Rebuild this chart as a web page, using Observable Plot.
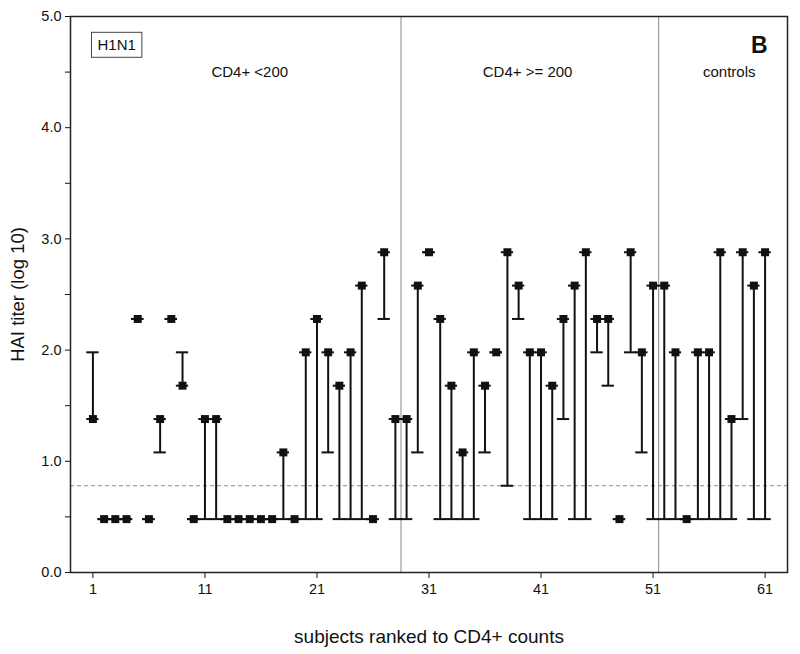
<!DOCTYPE html>
<html><head><meta charset="utf-8">
<script src="https://cdn.jsdelivr.net/npm/d3@7"></script>
<script src="https://cdn.jsdelivr.net/npm/@observablehq/plot@0.6"></script>
<style>
body{margin:0;background:#fff;}
#chart svg{font-family:"Liberation Sans",Arial,sans-serif;}
</style>
</head><body><div id="chart"></div>
<script>
// subjects ranked to CD4+ counts
const subjects = d3.range(1, 62);
// titer shown with the filled square (log10)
const squareValues = [
  1.38,0.48,0.48,0.48,2.28,0.48,1.38,2.28,1.68,0.48,
  1.38,1.38,0.48,0.48,0.48,0.48,0.48,1.08,0.48,1.98,
  2.28,1.98,1.68,1.98,2.58,0.48,2.88,1.38,1.38,2.58,
  2.88,2.28,1.68,1.08,1.98,1.68,1.98,2.88,2.58,1.98,
  1.98,1.68,2.28,2.58,2.88,2.28,2.28,0.48,2.88,1.98,
  2.58,2.58,1.98,0.48,1.98,1.98,2.88,1.38,2.88,2.58,
  2.88
];
// titer shown with the plain cap (log10)
const capValues = [
  1.98,0.48,0.48,0.48,2.28,0.48,1.08,2.28,1.98,0.48,
  0.48,0.48,0.48,0.48,0.48,0.48,0.48,0.48,0.48,0.48,
  0.48,1.08,0.48,0.48,0.48,0.48,2.28,0.48,0.48,1.08,
  2.88,0.48,0.48,0.48,0.48,1.08,1.98,0.78,2.28,0.48,
  0.48,0.48,1.38,0.48,0.48,1.98,1.68,0.48,1.98,1.08,
  0.48,0.48,0.48,0.48,0.48,0.48,0.48,0.48,1.38,0.48,
  0.48
];
const groupSeparators = [28.5, 51.5];
const groupLabels = ["CD4+ <200", "CD4+ >= 200", "controls"];
const groupLabelX = [15, 39.8, 57.8];
const cutoff = 0.78;
const xTicks = [1, 11, 21, 31, 41, 51, 61];
const yTicks = [0, 1, 2, 3, 4, 5];
const yMinorTicks = [0.5, 1.5, 2.5, 3.5, 4.5];

const data = subjects.map((s, i) => ({s, sq: squareValues[i], cap: capValues[i]}));
const half = 0.55;

const chart = Plot.plot({
  width: 800, height: 654,
  marginLeft: 70, marginRight: 13, marginTop: 16, marginBottom: 82,
  style: {fontFamily: "'Liberation Sans', Arial, sans-serif", fontSize: "14px", color: "#111", background: "#fff", overflow: "visible"},
  x: {domain: [-1, 63]},
  y: {domain: [0, 5]},
  marks: [
    Plot.ruleY([cutoff], {stroke: "#888", strokeDasharray: "4,3", strokeWidth: 1}),
    Plot.ruleX(groupSeparators, {stroke: "#888", strokeWidth: 1}),
    Plot.ruleX(data, {x: "s", y1: "sq", y2: "cap", stroke: "#111", strokeWidth: 2}),
    Plot.ruleY(data, {y: "cap", x1: d => d.s - half, x2: d => d.s + half, stroke: "#111", strokeWidth: 2}),
    Plot.ruleY(data, {y: "sq", x1: d => d.s - half, x2: d => d.s + half, stroke: "#111", strokeWidth: 2}),
    Plot.dot(data, {x: "s", y: "sq", symbol: "square", r: 4.5, fill: "#111", stroke: "none"}),
    Plot.axisX(xTicks, {tickSize: 6, tickPadding: 5, label: null, fontSize: 14.5, stroke: "#111"}),
    Plot.axisY(yTicks, {tickSize: 5, tickPadding: 4, label: null, tickFormat: d3.format(".1f"), fontSize: 14.5, stroke: "#111"}),
    Plot.axisY(yMinorTicks, {tickSize: 5, label: null, tickFormat: () => "", stroke: "#111"}),
    Plot.frame({stroke: "#222", strokeWidth: 1.5}),
    Plot.text(["H1N1"], {text: d => d, frameAnchor: "top-left", dx: 27, dy: 29, lineAnchor: "middle", fontSize: 15, className: "h1n1"}),
    Plot.text(["B"], {text: d => d, frameAnchor: "top-right", dx: -20, dy: 29, lineAnchor: "middle", textAnchor: "end", fontSize: 23, fontWeight: "bold"}),
    Plot.text(groupLabels, {text: d => d, x: (d, i) => groupLabelX[i], frameAnchor: "top", dy: 56, lineAnchor: "middle", fontSize: 15}),
    Plot.text(["subjects ranked to CD4+ counts"], {text: d => d, frameAnchor: "bottom", dy: 64, lineAnchor: "middle", textAnchor: "middle", fontSize: 19}),
    Plot.text(["HAI titer (log 10)"], {text: d => d, frameAnchor: "left", dx: -52, rotate: -90, lineAnchor: "middle", textAnchor: "middle", fontSize: 18.5})
  ]
});
document.getElementById("chart").appendChild(chart);

// box around the H1N1 label
const t = chart.querySelector(".h1n1 text");
if (t) {
  const b = t.getBBox();
  const r = document.createElementNS("http://www.w3.org/2000/svg", "rect");
  r.setAttribute("x", b.x - 6);
  r.setAttribute("y", b.y - 4);
  r.setAttribute("width", b.width + 12);
  r.setAttribute("height", b.height + 8);
  r.setAttribute("fill", "none");
  r.setAttribute("stroke", "#444");
  r.setAttribute("stroke-width", 1);
  if (t.getAttribute("transform")) r.setAttribute("transform", t.getAttribute("transform"));
  t.parentNode.insertBefore(r, t);
}
</script>
</body></html>
